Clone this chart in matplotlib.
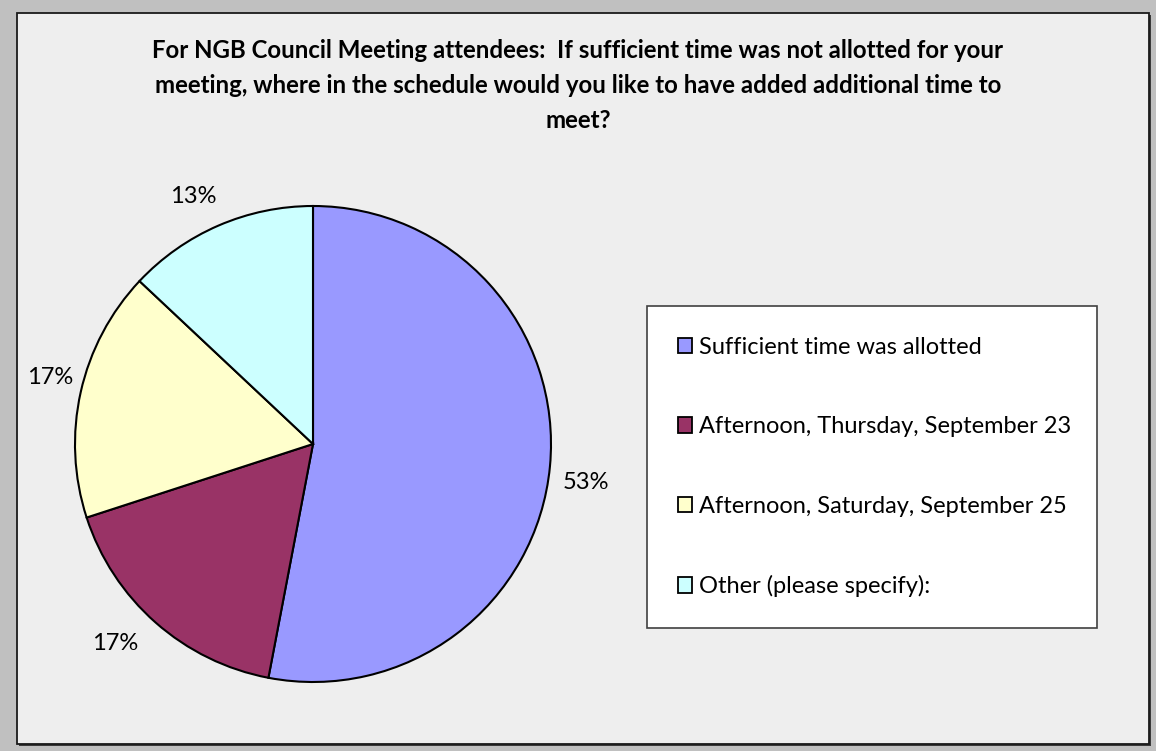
import matplotlib
matplotlib.use("Agg")
import matplotlib.pyplot as plt
from matplotlib.patches import Rectangle
import numpy as np

# --- survey answers (share of respondents, %) ---
answers = [
    "Sufficient time was allotted",
    "Afternoon, Thursday, September 23",
    "Afternoon, Saturday, September 25",
    "Other (please specify):",
]
shares = [53, 17, 17, 13]
colors = ["#9999ff", "#993366", "#ffffcc", "#ccffff"]
# where each percentage label sits: radius multiple and nudge from mid-angle (deg)
label_dist = [1.156, 1.18, 1.14, 1.155]
label_nudge = [-2.6, -3.3, -1.6, 2.5]

title = ("For NGB Council Meeting attendees:  If sufficient time was not allotted for your\n"
         "meeting, where in the schedule would you like to have added additional time to\n"
         "meet?")

plt.rcParams["font.family"] = ["Lato", "DejaVu Sans"]

W, H = 1156, 751
fig = plt.figure(figsize=(W / 100, H / 100), dpi=100)
fig.patch.set_facecolor("#c0c0c0")

# chart area panel with a small drop shadow
fig.patches.append(Rectangle((19 / W, 1 - 746 / H), 1132 / W, 731 / H,
                             transform=fig.transFigure, facecolor="#3a3a3a",
                             edgecolor="none", zorder=-3))
fig.patches.append(Rectangle((17 / W, 1 - 744 / H), 1132 / W, 731 / H,
                             transform=fig.transFigure, facecolor="#eeeeee",
                             edgecolor="#1a1a1a", linewidth=1.3, zorder=-2))

fig.text(578 / W, 1 - 39 / H, title, ha="center", va="top", fontsize=17.3,
         fontweight="bold", linespacing=1.62, color="#000000")

ax = fig.add_axes([75 / W, 69 / H, 476 / W, 476 / H])
wedges, _ = ax.pie(shares, colors=colors, startangle=90, counterclock=False,
                   wedgeprops=dict(edgecolor="black", linewidth=1.5))
ax.set_xlim(-1, 1)
ax.set_ylim(-1, 1)
ax.set_aspect("equal")
ax.axis("off")

# percentage labels outside the slices
for w, s, d, n in zip(wedges, shares, label_dist, label_nudge):
    ang = np.deg2rad((w.theta1 + w.theta2) / 2 + n)
    ax.text(d * np.cos(ang), d * np.sin(ang), f"{s}%", ha="center", va="center",
            fontsize=17, clip_on=False)

leg = fig.legend(wedges, answers, loc="upper left",
                 bbox_to_anchor=(647 / W, 1 - 306 / H, 450 / W, 0.0),
                 mode="expand", frameon=True, fancybox=False, fontsize=17,
                 framealpha=1.0, facecolor="white",
                 handlelength=0.62, handleheight=0.62, handletextpad=0.3,
                 labelspacing=2.48, borderpad=1.3, borderaxespad=0)
leg.get_frame().set_edgecolor("#404040")
leg.get_frame().set_linewidth(1.2)
for h in leg.legend_handles:
    h.set_edgecolor("black")
    h.set_linewidth(1.3)

fig.savefig("out.png", dpi=100, facecolor=fig.get_facecolor())
